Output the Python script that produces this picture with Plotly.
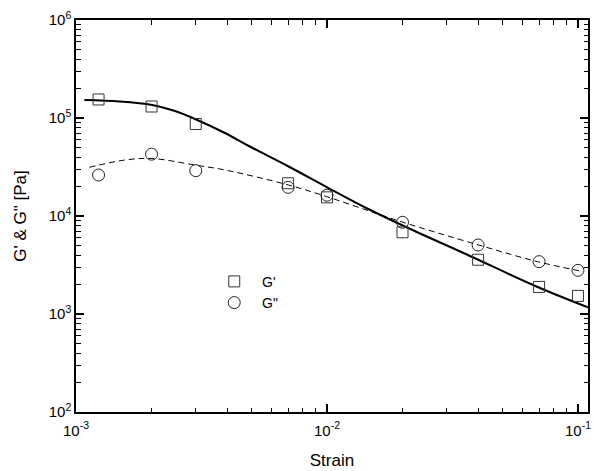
import plotly.graph_objects as go

# measured data
strain = [0.00123, 0.002, 0.003, 0.007, 0.01, 0.02, 0.04, 0.07, 0.1]
g_storage = [1.545e5, 1.31e5, 8.69e4, 2.16e4, 1.55e4, 6.82e3, 3.58e3, 1.89e3, 1.53e3]
g_loss = [2.62e4, 4.27e4, 2.90e4, 1.96e4, 1.63e4, 8.63e3, 5.06e3, 3.42e3, 2.79e3]

# fitted curve for G'
fit1_strain = [1.080e-3, 1.488e-3, 2.011e-3, 2.481e-3, 2.979e-3, 3.92e-3, 4.88e-3,
               7.03e-3, 1.014e-2, 1.461e-2, 2.106e-2, 3.642e-2, 6.907e-2, 0.1096]
fit1_g = [1.528e5, 1.474e5, 1.357e5, 1.179e5, 9.77e4, 7.03e4, 5.18e4,
          3.20e4, 1.93e4, 1.179e4, 7.54e3, 4.0e3, 1.886e3, 1.17e3]

# fitted curve for G''
fit2_strain = [1.131e-3, 1.571e-3, 2.011e-3, 2.979e-3, 3.92e-3, 7.03e-3, 9.95e-3,
               1.461e-2, 1.975e-2, 3.955e-2, 6.907e-2, 0.1042]
fit2_g = [3.14e4, 3.73e4, 3.86e4, 3.31e4, 2.95e4, 2.07e4, 1.58e4,
          1.133e4, 8.75e3, 5.12e3, 3.42e3, 2.72e3]

x_ticks = [1e-3, 1e-2, 1e-1]
x_tick_text = ["10<sup>-3</sup>", "10<sup>-2</sup>", "10<sup>-1</sup>"]
y_ticks = [1e2, 1e3, 1e4, 1e5, 1e6]
y_tick_text = ["10<sup>2</sup>", "10<sup>3</sup>", "10<sup>4</sup>", "10<sup>5</sup>", "10<sup>6</sup>"]
x_minor = [d * 10.0 ** e for e in (-3, -2) for d in range(2, 10)]
y_minor = [d * 10.0 ** e for e in (2, 3, 4, 5) for d in range(2, 10)]

X_RANGE = [-3, -0.96]
Y_RANGE = [2, 6]
FONT = "Liberation Sans, Arial, sans-serif"

fig = go.Figure()
fig.add_trace(go.Scatter(x=fit1_strain, y=fit1_g, mode="lines", line_shape="spline",
                         line=dict(color="black", width=2), showlegend=False,
                         hoverinfo="skip"))
fig.add_trace(go.Scatter(x=fit2_strain, y=fit2_g, mode="lines", line_shape="spline",
                         line=dict(color="black", width=1, dash="6px,4px"),
                         showlegend=False, hoverinfo="skip"))
fig.add_trace(go.Scatter(x=strain, y=g_storage, mode="markers", name="\u00a0\u00a0G'",
                         marker=dict(symbol="square-open", size=11,
                                     color="#333", line=dict(width=1, color="#333"))))
fig.add_trace(go.Scatter(x=strain, y=g_loss, mode="markers", name='\u00a0\u00a0G"',
                         marker=dict(symbol="circle-open", size=12,
                                     color="#222", line=dict(width=1, color="#222"))))
# empty trace that carries the minor-tick overlay axes
fig.add_trace(go.Scatter(x=[], y=[], xaxis="x2", yaxis="y2", showlegend=False,
                         hoverinfo="skip"))

axis_common = dict(
    showline=True, linecolor="black", linewidth=1.5, mirror="ticks",
    ticks="inside", ticklen=8, tickwidth=1.6, tickcolor="black",
    showgrid=False, zeroline=False, tickmode="array",
    tickfont=dict(family=FONT, size=15, color="black"),
)
minor_common = dict(
    showline=False, mirror="ticks", ticks="inside", ticklen=4.5, tickwidth=1.4,
    tickcolor="black", showgrid=False, zeroline=False, showticklabels=False,
    tickmode="array",
)

fig.update_layout(
    width=593, height=471,
    margin=dict(l=76, r=3, t=20, b=59),
    plot_bgcolor="white", paper_bgcolor="white",
    font=dict(family=FONT, color="black"),
    xaxis=dict(type="log", range=X_RANGE, tickvals=x_ticks, ticktext=x_tick_text,
               ticklabelstandoff=4,
               title=dict(text="Strain", font=dict(family=FONT, size=17, color="black"),
                          standoff=16),
               **axis_common),
    yaxis=dict(type="log", range=Y_RANGE, tickvals=y_ticks, ticktext=y_tick_text,
               title=dict(text='G\' & G" [Pa]', font=dict(family=FONT, size=17, color="black"),
                          standoff=18),
               **axis_common),
    xaxis2=dict(type="log", range=X_RANGE, tickvals=x_minor, overlaying="x",
                side="bottom", anchor="y", **minor_common),
    yaxis2=dict(type="log", range=Y_RANGE, tickvals=y_minor, overlaying="y",
                side="left", anchor="x", **minor_common),
    legend=dict(x=0.27, y=0.373, xanchor="left", yanchor="top",
                bgcolor="rgba(0,0,0,0)", font=dict(family=FONT, size=14, color="black")),
)

fig.write_html("out.html")
